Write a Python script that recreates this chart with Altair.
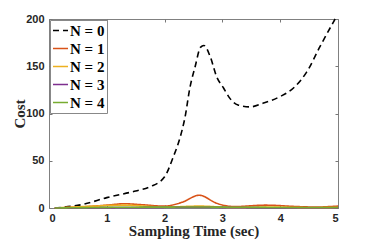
import altair as alt
import pandas as pd

# N = 0 (dashed black)
t0 = [0.1, 0.6, 1.0, 1.5, 1.75, 2.0, 2.15, 2.27, 2.35, 2.44, 2.53, 2.62, 2.68, 2.79, 2.9, 3.02, 3.13, 3.27, 3.48, 3.71, 4.0, 4.23, 4.46, 4.69, 4.95]
c0 = [0, 4, 11, 18, 22.5, 33, 54, 75, 95, 128, 150, 170, 172, 160, 139, 127, 116, 109, 107, 111, 118, 127, 144, 171, 200]
# N = 1
t1 = [0.1, 0.5, 1.0, 1.3, 1.6, 2.0, 2.3, 2.6, 2.9, 3.2, 3.75, 4.3, 4.6, 5.0]
c1 = [0, 1, 3, 4.5, 3.5, 2, 6, 13.5, 5, 1.5, 3, 1.5, 1, 2]
# N = 2
t2 = [0.1, 0.6, 1.3, 2.0, 2.6, 3.2, 3.8, 4.5, 5.0]
c2 = [0, 1.5, 3, 1, 2, 0.5, 1, 0.3, 0.5]
# N = 3
t3 = [0.1, 1.3, 2.6, 3.8, 5.0]
c3 = [0, 0.5, 0.8, 0.3, 0.2]
# N = 4
t4 = [0.1, 1.3, 2.6, 3.8, 5.0]
c4 = [0, 0.8, 1.0, 0.6, 0.5]

labels = ["N = 0", "N = 1", "N = 2", "N = 3", "N = 4"]
colors = ["#000000", "#D95319", "#EDB120", "#7E2F8E", "#77AC30"]
dashes = [[6, 4], [1, 0], [1, 0], [1, 0], [1, 0]]

rows = []
for i, (ts, cs) in enumerate([(t0, c0), (t1, c1), (t2, c2), (t3, c3), (t4, c4)]):
    for t, c in zip(ts, cs):
        rows.append({"t": t, "cost": c, "N": labels[i], "ord": i})
df = pd.DataFrame(rows)

serif = "Liberation Serif"
sans = "Liberation Sans"

lines = alt.Chart(df).mark_line(interpolate="monotone", strokeWidth=1.6).encode(
    x=alt.X("t:Q", scale=alt.Scale(domain=[0, 5], nice=False),
            axis=alt.Axis(title="Sampling Time (sec)", values=[0, 1, 2, 3, 4, 5], offset=-3,
                          tickSize=3, domain=False, grid=False, labelPadding=4,
                          labelFont=sans, labelFontWeight="bold", labelFontSize=11, labelColor="#262626",
                          tickColor="#777", titleFont=serif, titleFontSize=15, titleFontWeight="bold",
                          titleColor="#262626", titlePadding=0)),
    y=alt.Y("cost:Q", scale=alt.Scale(domain=[0, 200], nice=False),
            axis=alt.Axis(title="Cost", values=[0, 50, 100, 150, 200], offset=-3,
                          tickSize=3, domain=False, grid=False, labelPadding=5,
                          labelFont=sans, labelFontWeight="bold", labelFontSize=11, labelColor="#262626",
                          tickColor="#777", titleFont=serif, titleFontSize=15, titleFontWeight="bold",
                          titleColor="#262626", titlePadding=-2)),
    color=alt.Color("N:N", scale=alt.Scale(domain=labels, range=colors),
                    legend=alt.Legend(title=None, orient="top-left", offset=1, padding=2,
                                      strokeColor="#888", fillColor="white", symbolType="stroke",
                                      symbolSize=225, symbolStrokeWidth=1.6, labelFont=serif,
                                      labelFontSize=15, labelFontWeight="bold", labelColor="#000",
                                      rowPadding=1, labelOffset=1, symbolOffset=0)),
    strokeDash=alt.StrokeDash("N:N", scale=alt.Scale(domain=labels, range=dashes), legend=None),
    order="ord:Q",
)

tick_axes = alt.Chart(df).mark_line(opacity=0).encode(
    x=alt.X("t:Q", scale=alt.Scale(domain=[0, 5], nice=False),
            axis=alt.Axis(orient="top", title=None, labels=False, values=[0, 1, 2, 3, 4, 5],
                          offset=-3, tickSize=3, domain=False, grid=False, tickColor="#777")),
    y=alt.Y("cost:Q", scale=alt.Scale(domain=[0, 200], nice=False),
            axis=alt.Axis(orient="right", title=None, labels=False, values=[0, 50, 100, 150, 200],
                          offset=-3, tickSize=3, domain=False, grid=False, tickColor="#777")),
)

chart = alt.layer(tick_axes, lines).resolve_axis(x="independent", y="independent").properties(
    width=289, height=189,
    autosize=alt.AutoSizeParams(type="none"),
    padding={"left": 41, "top": 11, "right": 20, "bottom": 32},
).configure_view(stroke="#808080", strokeWidth=1)

chart.save("out.html", embed_options={"renderer": "svg", "actions": False})
